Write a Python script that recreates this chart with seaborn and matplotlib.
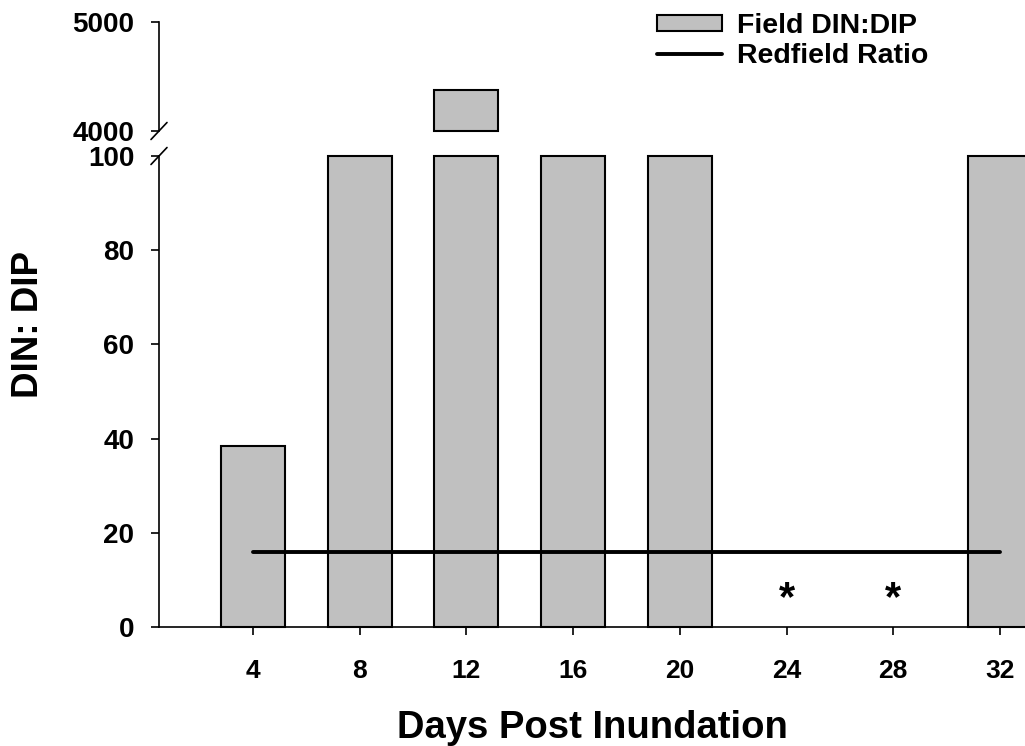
"""Field DIN:DIP against days post inundation, with the Redfield ratio."""

import matplotlib

matplotlib.use("Agg")

import matplotlib.pyplot as plt
import numpy as np
import pandas as pd
import seaborn as sns
from matplotlib.lines import Line2D
from matplotlib.patches import Patch


DAYS = [4, 8, 12, 16, 20, 24, 28, 32]
# days 8, 16, 20 and 32 run past 100 but stay below the 4000 break (estimated)
DIN_DIP = [38.5, 250.0, 4380.0, 300.0, 200.0, np.nan, np.nan, 180.0]
NO_DATA_DAYS = [24, 28]
REDFIELD_DAYS = [4, 32]
REDFIELD_RATIO = [16, 16]
LOWER_TICKS = [0, 20, 40, 60, 80, 100]
UPPER_TICKS = [4000, 5000]
LOWER_MAX = 100
UPPER_MIN, UPPER_MAX = 4000, 5000

BAR_WIDTH = 2.4  # in days
BAR_COLOR = "#c0c0c0"
W, H = 1025, 746


def rel_width(x):
    """seaborn's native-scale width is relative to the smallest gap."""
    u = np.unique(x)
    gap = np.min(np.diff(u)) if len(u) > 1 else 1
    return BAR_WIDTH / gap


def draw_break(ax, y, dy):
    dx = 8 / 866
    ax.plot([-dx, dx], [y - dy, y + dy], transform=ax.transAxes,
            color="black", lw=1.2, clip_on=False)


sns.set_style("ticks")
plt.rcParams["font.family"] = ["Liberation Sans", "DejaVu Sans"]
plt.rcParams["font.weight"] = "bold"
plt.rcParams["axes.linewidth"] = 1.2
for key in ("text.color", "axes.labelcolor", "axes.edgecolor",
            "xtick.color", "ytick.color"):
    plt.rcParams[key] = "black"

df = pd.DataFrame({"day": DAYS, "value": DIN_DIP}).dropna()
df["shown"] = df["value"].clip(upper=LOWER_MAX)
high = df[df["value"] > UPPER_MIN].copy()
high["above"] = high["value"] - UPPER_MIN

fig = plt.figure(figsize=(W / 100, H / 100), dpi=100)
ax_low = fig.add_axes([159 / W, (H - 627) / H, (W - 159) / W, (627 - 156) / H])
ax_up = fig.add_axes([159 / W, (H - 131) / H, (W - 159) / W, (131 - 22) / H])

sns.barplot(data=df, x="day", y="shown", native_scale=True,
            width=rel_width(df["day"]), color=BAR_COLOR, saturation=1,
            edgecolor="black", linewidth=1.5, errorbar=None, clip_on=False,
            ax=ax_low)
sns.lineplot(x=REDFIELD_DAYS, y=REDFIELD_RATIO, color="black", linewidth=2.8,
             ax=ax_low)
for d in NO_DATA_DAYS:
    ax_low.text(d, 6.0, "*", ha="center", va="center", fontsize=30,
                fontweight="bold")

sns.barplot(data=high, x="day", y="above", native_scale=True,
            width=rel_width(high["day"]), color=BAR_COLOR, saturation=1,
            edgecolor="black", linewidth=1.5, errorbar=None, bottom=UPPER_MIN,
            clip_on=False, ax=ax_up)

for ax in (ax_low, ax_up):
    ax.set_xlim(0.477, 32.94)
    ax.set_xlabel("")
    ax.set_ylabel("")
    ax.tick_params(axis="y", length=5.8, width=1.2, pad=12, labelsize=20)

ax_low.set_ylim(0, LOWER_MAX)
ax_low.set_yticks(LOWER_TICKS)
ax_low.set_xticks(DAYS)
ax_low.tick_params(axis="x", length=5.8, width=1.2, pad=17, labelsize=19)
sns.despine(ax=ax_low)

ax_up.set_ylim(UPPER_MIN, UPPER_MAX)
ax_up.set_yticks(UPPER_TICKS)
ax_up.set_xticks([])
sns.despine(ax=ax_up, bottom=True)

draw_break(ax_low, 1, 8.5 / 471)
draw_break(ax_up, 0, 8.5 / 109)

fig.text(29 / W, 1 - 325 / H, "DIN: DIP", rotation=90, ha="center",
         va="center", fontsize=26.5)
fig.text(592 / W, 1 - 738 / H, "Days Post Inundation", ha="center",
         va="baseline", fontsize=27.5)

handles = [
    Patch(facecolor=BAR_COLOR, edgecolor="black", linewidth=1.5),
    Line2D([], [], color="black", linewidth=2.8),
]
fig.legend(handles, ["Field DIN:DIP", "Redfield Ratio"], loc="upper left",
           bbox_to_anchor=(657 / W, 1 - 13 / H), frameon=False, fontsize=20.5,
           borderpad=0, borderaxespad=0, handlelength=2.3, handleheight=0.5,
           handletextpad=0.5, labelspacing=0.15)

fig.savefig("out.png", dpi=100)
